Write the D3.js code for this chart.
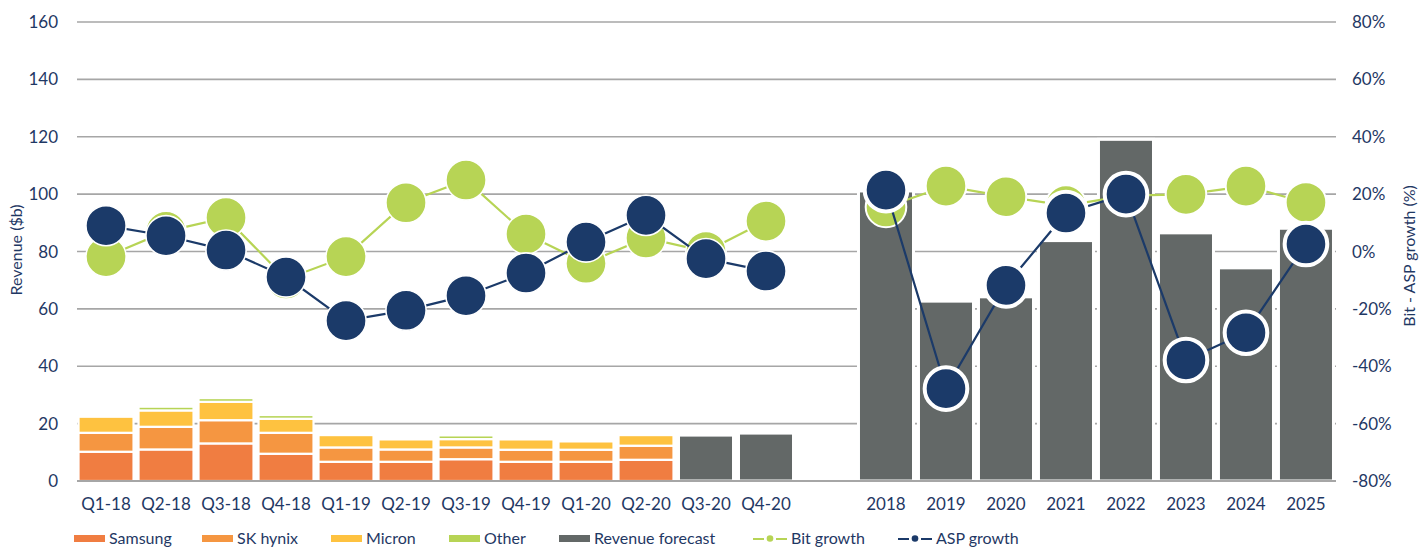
<!DOCTYPE html>
<html>
<head>
<meta charset="utf-8">
<script src="https://cdn.jsdelivr.net/npm/d3@7"></script>
<style>
  body { margin: 0; background: #fff; }
  text { font-family: Lato, "Open Sans", sans-serif; fill: #1f3864; }
</style>
</head>
<body>
<script>
// quarterly history, then yearly forecast
var quarters = ["Q1-18", "Q2-18", "Q3-18", "Q4-18", "Q1-19", "Q2-19", "Q3-19", "Q4-19", "Q1-20", "Q2-20", "Q3-20", "Q4-20"];
var years = ["2018", "2019", "2020", "2021", "2022", "2023", "2024", "2025"];

// revenue ($b) by maker, Q1-18 .. Q2-20
var samsung = [10.2, 11.0, 13.1, 9.5, 6.7, 6.7, 7.6, 6.7, 6.7, 7.4];
var skHynix = [6.6, 7.9, 8.1, 7.3, 5.0, 4.3, 4.1, 4.2, 4.2, 4.9];
var micron = [5.6, 5.7, 6.4, 4.9, 4.3, 3.5, 2.9, 3.6, 2.9, 3.7];
var other = [0, 1.3, 1.3, 1.3, 0, 0, 1.3, 0, 0, 0];

// revenue forecast ($b)
var forecastQ = [16.0, 16.7];            // Q3-20, Q4-20
var forecastY = [101.1, 62.7, 64.2, 83.8, 119.1, 86.5, 74.3, 88.1];

// growth (%)
var bitGrowthQ = [-1.8, 7.0, 11.8, -9.6, -1.8, 17.0, 24.9, 6.1, -4.1, 4.7, 0.0, 10.6];
var aspGrowthQ = [9.0, 5.5, 0.5, -8.9, -24.1, -20.5, -15.4, -7.5, 3.3, 12.6, -2.5, -6.8];
var bitGrowthY = [15.5, 22.8, 19.1, 16.0, 19.5, 19.9, 22.8, 17.1];
var aspGrowthY = [21.4, -47.8, -11.8, 13.4, 20.0, -37.8, -28.3, 2.6];

var leftTicks = [0, 20, 40, 60, 80, 100, 120, 140, 160];
var rightTicks = [-80, -60, -40, -20, 0, 20, 40, 60, 80];

var colors = {
  samsung: "#f07d41", skHynix: "#f59641", micron: "#fec240", other: "#b7d455",
  forecast: "#636867", bit: "#b7d455", asp: "#1b3a69", grid: "#a6a6a6"
};

var W = 1419, H = 549;
var svg = d3.select("body").append("svg")
  .attr("width", W)
  .attr("height", H);

var slots = quarters.concat([" "], years);

var x = d3.scaleBand()
  .domain(slots)
  .range([76, 1336])
  .paddingInner(0.083)
  .paddingOuter(0.042);

var y = d3.scaleLinear().domain([0, 160]).range([481, 22]);
var y2 = d3.scaleLinear().domain([-80, 80]).range([481, 22]);

// gridlines
svg.append("g")
  .selectAll("line")
  .data(leftTicks)
  .enter()
  .append("line")
    .attr("x1", 77)
    .attr("x2", 1336)
    .attr("y1", function(d) { return y(d); })
    .attr("y2", function(d) { return y(d); })
    .style("stroke", colors.grid)
    .style("stroke-width", function(d) { return d === 0 ? 2.2 : 1.6; });

// stacked quarterly bars
var stackRows = samsung.map(function(d, i) {
  return { cat: quarters[i], samsung: samsung[i], skHynix: skHynix[i], micron: micron[i], other: other[i] };
});
var keys = ["samsung", "skHynix", "micron", "other"];
var stacked = d3.stack().keys(keys)(stackRows);

svg.append("g")
  .selectAll("g")
  .data(stacked)
  .enter()
  .append("g")
    .style("fill", function(d) { return colors[d.key]; })
  .selectAll("rect")
  .data(function(d) { return d.filter(function(s) { return s[1] - s[0] > 0; }); })
  .enter()
  .append("rect")
    .attr("x", function(d) { return x(d.data.cat); })
    .attr("y", function(d) { return y(d[1]); })
    .attr("width", x.bandwidth())
    .attr("height", function(d) { return y(d[0]) - y(d[1]); })
    .style("stroke", "#fff")
    .style("stroke-width", 2.2);

// forecast bars
var forecastRows = [
  { cat: "Q3-20", v: forecastQ[0] },
  { cat: "Q4-20", v: forecastQ[1] }
].concat(years.map(function(c, i) { return { cat: c, v: forecastY[i] }; }));

svg.append("g")
  .selectAll("rect")
  .data(forecastRows)
  .enter()
  .append("rect")
    .attr("x", function(d) { return x(d.cat); })
    .attr("y", function(d) { return y(d.v); })
    .attr("width", x.bandwidth())
    .attr("height", function(d) { return y(0) - y(d.v); })
    .style("fill", colors.forecast)
    .style("stroke", "#fff")
    .style("stroke-width", 3);

// redraw baseline over bars
svg.append("line")
  .attr("x1", 77).attr("x2", 1336)
  .attr("y1", y(0)).attr("y2", y(0))
  .style("stroke", colors.grid)
  .style("stroke-width", 2.2);

function cx(c) { return x(c) + x.bandwidth() / 2; }

function drawSeries(cats, vals, color, ring) {
  var pts = cats.map(function(c, i) { return [cx(c), y2(vals[i])]; });
  svg.append("path")
    .attr("d", d3.line()(pts))
    .style("fill", "none")
    .style("stroke", color)
    .style("stroke-width", 2.2);
  svg.append("g")
    .selectAll("circle")
    .data(pts)
    .enter()
    .append("circle")
      .attr("cx", function(d) { return d[0]; })
      .attr("cy", function(d) { return d[1]; })
      .attr("r", 19.3 + ring / 2)
      .style("fill", color)
      .style("stroke", "#fff")
      .style("stroke-width", ring);
}

drawSeries(quarters, bitGrowthQ, colors.bit, 1.6);
drawSeries(years, bitGrowthY, colors.bit, 2);
drawSeries(quarters, aspGrowthQ, colors.asp, 1.6);
drawSeries(years, aspGrowthY, colors.asp, 4);

// axes labels
svg.append("g")
  .selectAll("text")
  .data(leftTicks)
  .enter()
  .append("text")
    .attr("x", 58)
    .attr("y", function(d) { return y(d); })
    .attr("dy", "0.36em")
    .attr("text-anchor", "end")
    .style("font-size", "17px")
    .text(function(d) { return d; });

svg.append("g")
  .selectAll("text")
  .data(rightTicks)
  .enter()
  .append("text")
    .attr("x", 1352)
    .attr("y", function(d) { return y2(d); })
    .attr("dy", "0.36em")
    .style("font-size", "17px")
    .text(function(d) { return d + "%"; });

svg.append("g")
  .selectAll("text")
  .data(slots.filter(function(c) { return c.trim() !== ""; }))
  .enter()
  .append("text")
    .attr("x", function(d) { return cx(d); })
    .attr("y", 510)
    .attr("text-anchor", "middle")
    .style("font-size", "17px")
    .text(function(d) { return d; });

svg.append("text")
  .attr("transform", "translate(22,250) rotate(-90)")
  .attr("text-anchor", "middle")
  .style("font-size", "16px")
  .text("Revenue ($b)");

svg.append("text")
  .attr("transform", "translate(1415,256) rotate(-90)")
  .attr("text-anchor", "middle")
  .style("font-size", "16px")
  .text("Bit - ASP growth (%)");

// legend
var boxItems = [
  { label: "Samsung", color: colors.samsung, x: 74 },
  { label: "SK hynix", color: colors.skHynix, x: 202 },
  { label: "Micron", color: colors.micron, x: 331 },
  { label: "Other", color: colors.other, x: 449 },
  { label: "Revenue forecast", color: colors.forecast, x: 559 }
];
var legend = svg.append("g");
boxItems.forEach(function(it) {
  legend.append("rect")
    .attr("x", it.x).attr("y", 535)
    .attr("width", 31).attr("height", 7)
    .style("fill", it.color);
  legend.append("text")
    .attr("x", it.x + 35).attr("y", 544)
    .style("font-size", "16px")
    .text(it.label);
});

var lineItems = [
  { label: "Bit growth", color: colors.bit, x: 753 },
  { label: "ASP growth", color: colors.asp, x: 898 }
];
lineItems.forEach(function(it) {
  legend.append("line")
    .attr("x1", it.x).attr("x2", it.x + 34)
    .attr("y1", 539).attr("y2", 539)
    .style("stroke", it.color)
    .style("stroke-width", 2)
    .style("stroke-dasharray", "11 12 11");
  legend.append("circle")
    .attr("cx", it.x + 17).attr("cy", 538.5)
    .attr("r", 3.3)
    .style("fill", it.color);
  legend.append("text")
    .attr("x", it.x + 38).attr("y", 544)
    .style("font-size", "16px")
    .text(it.label);
});
</script>
</body>
</html>
